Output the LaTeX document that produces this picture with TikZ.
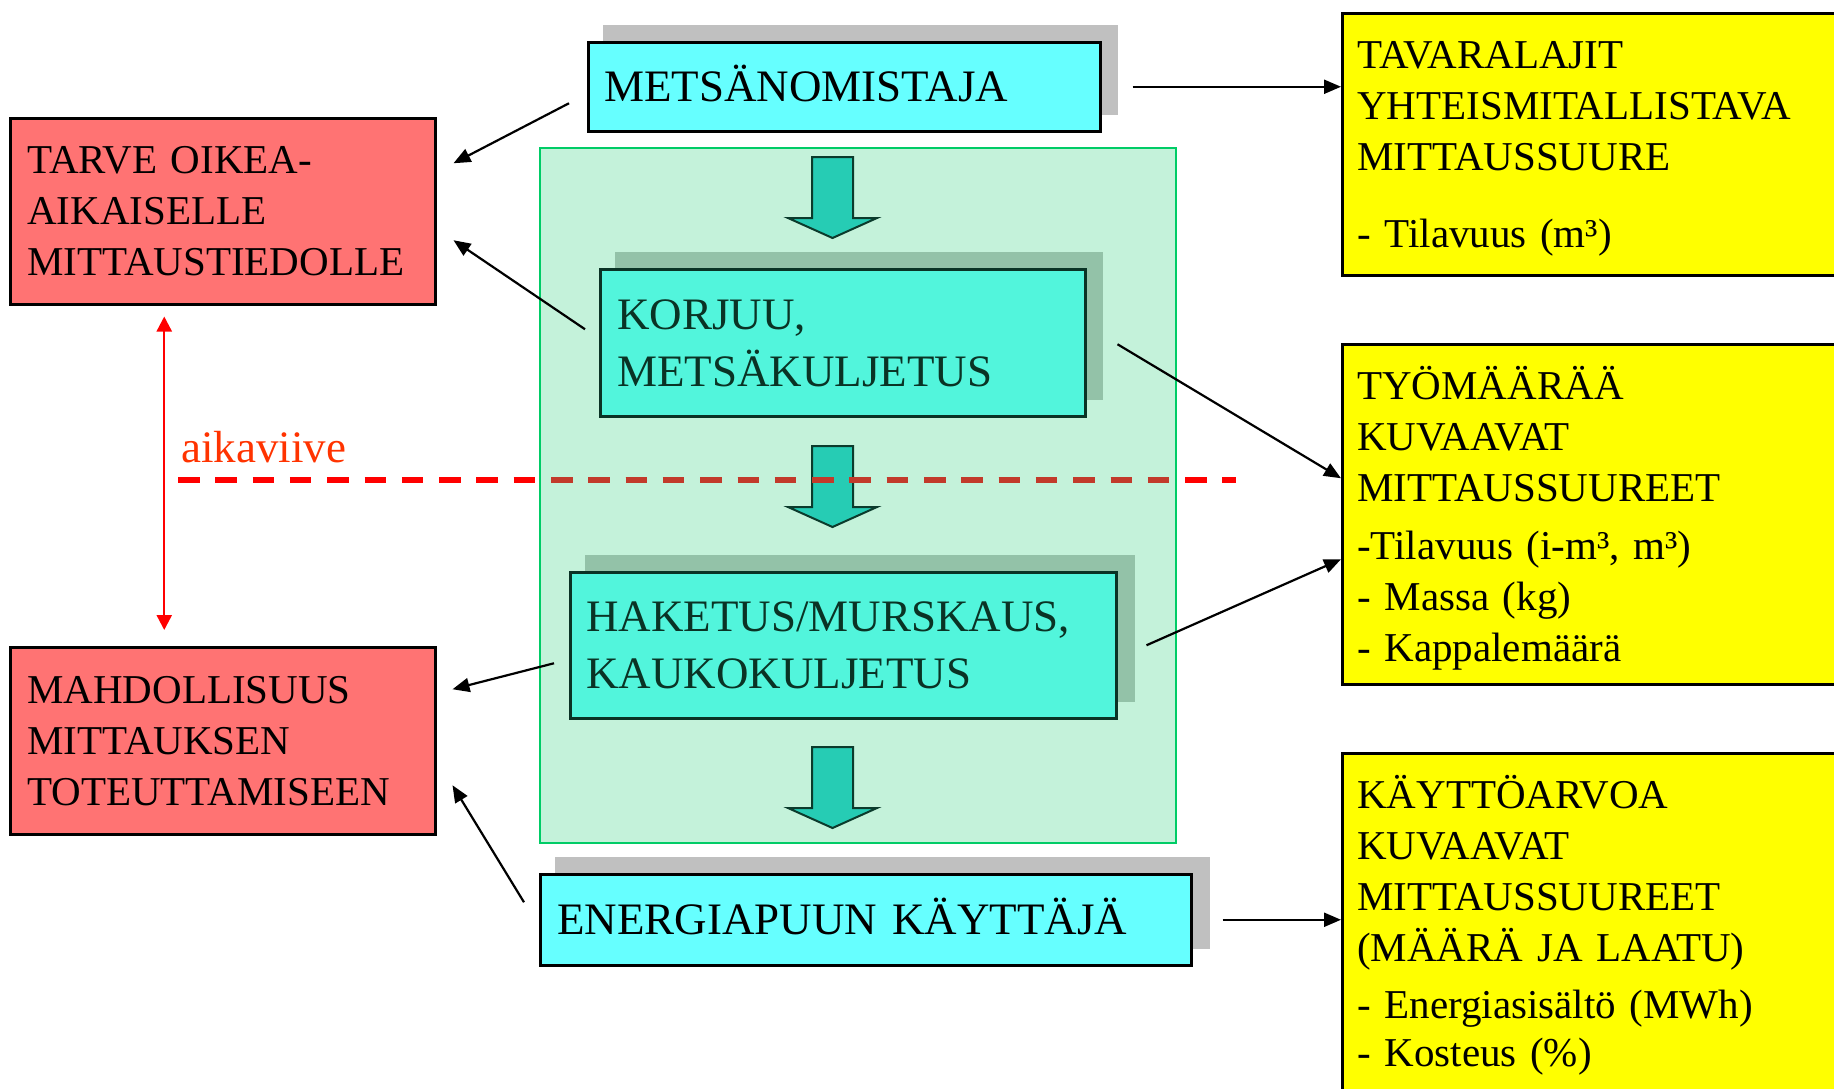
\documentclass[tikz,border=0pt]{standalone}
\usepackage{fontspec}
\setmainfont{Liberation Serif}
\usepackage{tikz}
\usetikzlibrary{arrows.meta, shadows}

\definecolor{needred}{HTML}{FF7373}
\definecolor{actorcyan}{HTML}{66FFFF}
\definecolor{actorshade}{HTML}{C0C0C0}
\definecolor{stagefill}{HTML}{52F5DC}
\definecolor{stageshade}{HTML}{93C2A8}
\definecolor{stagetext}{HTML}{0A3325}
\definecolor{panelgreen}{HTML}{C4F2DA}
\definecolor{paneledge}{HTML}{00CC66}
\definecolor{flowteal}{HTML}{26CCB4}
\definecolor{flowedge}{HTML}{0B3B2C}
\definecolor{resultyellow}{HTML}{FFFF00}
\definecolor{lagred}{HTML}{FF3300}
\definecolor{lagdark}{HTML}{C23A2B}

\begin{document}
\begin{tikzpicture}[x=0.5pt,y=-0.5pt,>={Triangle[length=8.5pt,width=7pt]},
  side box/.style={rectangle, draw=black, line width=1.25pt, anchor=north west,
    align=left, inner xsep=8.5pt, inner ysep=0pt, font=\fontsize{20.5pt}{25.5pt}\selectfont},
  need box/.style={side box, fill=needred, text width=195.5pt},
  result box/.style={side box, fill=resultyellow, inner xsep=7.5pt, text width=244.5pt},
  actor box/.style={rectangle, draw=black, line width=1.25pt, fill=actorcyan, anchor=north west,
    align=left, inner ysep=0pt, font=\fontsize{22.5pt}{28.5pt}\selectfont,
    general shadow={fill=actorshade, draw=none, shadow xshift=8.25pt, shadow yshift=8.25pt, shadow scale=1.006}},
  stage box/.style={actor box, draw=stagetext, fill=stagefill, text=stagetext,
    general shadow={fill=stageshade, draw=none, shadow xshift=8.25pt, shadow yshift=8.25pt, shadow scale=1.006}},
  stage panel/.style={rectangle, draw=paneledge, line width=1pt, fill=panelgreen, anchor=north west},
  flow arrow/.style={draw=flowedge, line width=1pt, fill=flowteal, line join=miter},
  link/.style={->, draw=black, line width=1.1pt},
  lag arrow/.style={draw=red, line width=1.2pt, {Triangle[length=7.5pt,width=7.5pt]}-{Triangle[length=7.5pt,width=7.5pt]}},
  lag line/.style={draw=red, line width=3pt, dash pattern=on 10.75pt off 7.9pt},
  lag label/.style={text=lagred, inner sep=0pt, font=\fontsize{22.5pt}{27pt}\selectfont}]

  \useasboundingbox (0,0) rectangle (1834,1088);
  \clip (0,0) rectangle (1834,1088);

  \node[stage panel, minimum width=318pt, minimum height=347.5pt] (panel) at (539,147) {};

  % left column
  \node[need box, text height=27.5pt, text depth=65.5pt] (tarve) at (9,117)
    {TARVE OIKEA-\\AIKAISELLE\\MITTAUSTIEDOLLE};
  \node[need box, text height=28pt, text depth=65.5pt] (mahd) at (9,646)
    {MAHDOLLISUUS\\MITTAUKSEN\\TOTEUTTAMISEEN};

  % middle column
  \node[actor box, inner xsep=8pt, text width=240pt, text height=29.5pt, text depth=15pt] (metsa) at (587,41)
    {METSÄNOMISTAJA};
  \node[stage box, inner xsep=8.5pt, text width=225.5pt, text height=30pt, text depth=43.5pt] (korjuu) at (599,268)
    {KORJUU,\\METSÄKULJETUS};
  \node[stage box, inner xsep=8pt, text width=257pt, text height=29.5pt, text depth=43.5pt] (haketus) at (569,571)
    {HAKETUS/MURSKAUS,\\KAUKOKULJETUS};
  \node[actor box, inner xsep=8.5pt, text width=308.5pt, text height=30pt, text depth=15.5pt] (energia) at (539,873)
    {ENERGIAPUUN KÄYTTÄJÄ};

  \foreach \t in {157,446,747}
    \draw[flow arrow] (812,\t) -- (853,\t) -- (853,\t+61) -- (877,\t+61) -- (832.5,\t+81)
      -- (788,\t+61) -- (812,\t+61) -- cycle;

  % right column
  \node[result box, text height=27.5pt, text depth=103.5pt] (tavara) at (1341,12)
    {TAVARALAJIT\\YHTEISMITALLISTAVA\\MITTAUSSUURE\\[13pt]- Tilavuus (m³)};
  \node[result box, text height=27.5pt, text depth=142.5pt] (tyo) at (1341,343)
    {TYÖMÄÄRÄÄ\\KUVAAVAT\\MITTAUSSUUREET\\[3.5pt]-Tilavuus (i-m³, m³)\\- Massa (kg)\\- Kappalemäärä};
  \node[result box, text height=27.5pt, text depth=151.5pt] (kaytto) at (1341,752)
    {KÄYTTÖARVOA\\KUVAAVAT\\MITTAUSSUUREET\\(MÄÄRÄ JA LAATU)\\[3pt]- Energiasisältö (MWh)\\[-1.5pt]- Kosteus (\%)};

  % time lag
  \node[lag label, anchor=base west] (aika) at (181,462) {aikaviive};
  \draw[lag line] (178,480) -- (1236,480);
  \begin{scope}
    \clip (panel.north west) rectangle (panel.south east);
    \draw[lag line, draw=lagdark] (178,480) -- (1236,480);
  \end{scope}
  \draw[lag arrow] ([xshift=-29.25pt,yshift=-5.5pt]tarve.south) -- ([xshift=-29.25pt,yshift=8pt]mahd.north);

  \draw[link] ([xshift=-9pt,yshift=-8.25pt]metsa.west) -- ([xshift=8.5pt,yshift=24pt]tarve.east);
  \draw[link] ([xshift=-7pt,yshift=6.75pt]korjuu.west) -- ([xshift=8.5pt,yshift=-14.5pt]tarve.east);
  \draw[link] ([xshift=-7.5pt,yshift=-9pt]haketus.west) -- ([xshift=8pt,yshift=25.75pt]mahd.east);
  \draw[link] ([xshift=-7.5pt,yshift=8.75pt]energia.west) -- ([xshift=8pt,yshift=-22.25pt]mahd.east);
  \draw[link] ([xshift=15.5pt]metsa.east) -- (tavara.west |- metsa.east);
  \draw[link] ([xshift=15.5pt,yshift=-0.75pt]korjuu.east) -- ([yshift=18pt]tyo.west);
  \draw[link] ([xshift=14.5pt]haketus.east) -- ([yshift=-22.5pt]tyo.west);
  \draw[link] ([xshift=15pt]energia.east) -- (kaytto.west |- energia.east);
\end{tikzpicture}
\end{document}
